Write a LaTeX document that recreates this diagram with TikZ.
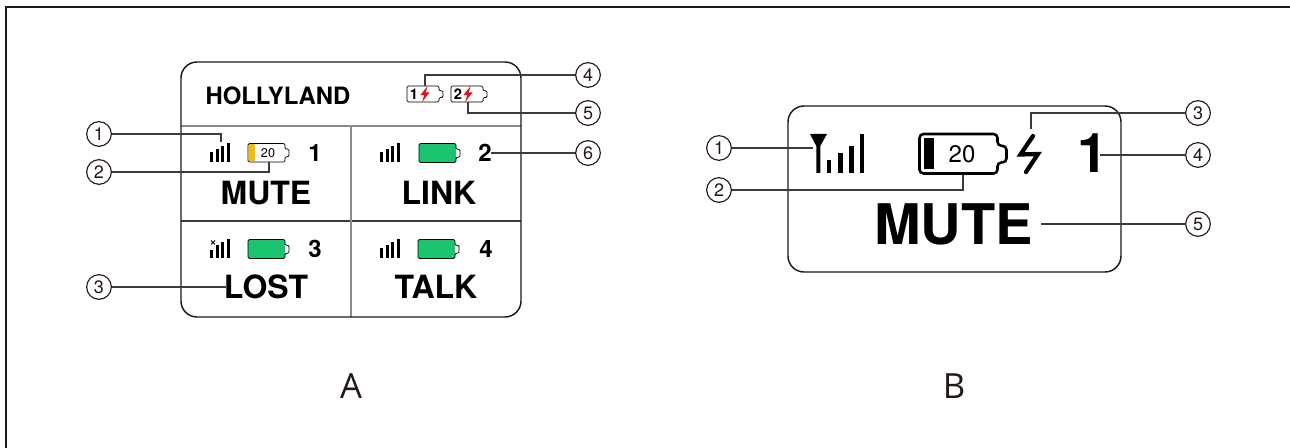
\documentclass[tikz,border=0pt]{standalone}
\usepackage{fontspec}
\setmainfont{TeX Gyre Heros}
\newfontfamily\labelfont{Open Sans}
\definecolor{ink}{HTML}{231815}
\definecolor{lead}{HTML}{3E3A39}
\definecolor{rule}{HTML}{8C8C8C}
\definecolor{battgreen}{HTML}{1BC470}
\definecolor{battyellow}{HTML}{F5BE00}
\definecolor{boltred}{HTML}{E0141E}
\tikzset{
  panel/.style={draw=ink,line width=1.1pt,rounded corners=12pt},
  leadline/.style={draw=lead,line width=0.85pt},
  callout/.style={circle,draw=ink,line width=0.85pt,minimum size=18.5pt,inner sep=0pt,font=\fontsize{13.5}{13.5}\selectfont,text=ink},
  txt/.style={inner sep=0pt,text=black},
  bigword/.style={txt,font=\bfseries\fontsize{24}{24}\selectfont},
  slotnum/.style={txt,font=\bfseries\fontsize{18}{18}\selectfont},
  panellabel/.style={inner sep=0pt,text=ink,font=\labelfont\fontsize{26}{26}\selectfont},
  tinynum/.style={txt,font=\bfseries\fontsize{11}{11}\selectfont},
}
% x, y, width, height, nub, line width, corner
\newcommand{\battbody}[7]{%
  \draw[black,line width=#6,rounded corners=#7,shift={(#1,#2)}]
    (0,0) -- (#3,0) -- (#3,{#4*0.3}) -- ({#3+#5},{#4*0.3}) -- ({#3+#5},{#4*0.72})
    -- (#3,{#4*0.72}) -- (#3,#4) -- (0,#4) -- cycle;}
\newcommand{\greenbatt}[2]{%
  \fill[battgreen,rounded corners=1pt,shift={(#1,#2)}] (0,0) rectangle (37,19);
  \battbody{#1}{#2}{37}{19}{4}{0.6pt}{1pt}}
% x, bottom y, first-bar height
\newcommand{\sigbars}[3]{%
  \begin{scope}[shift={(#1,#2)}]
    \fill[black] (0,0) rectangle (3,-#3);
    \fill[black] (5.6,0) rectangle (8.6,-13);
    \fill[black] (11,0) rectangle (14,-16);
    \fill[black] (16.6,0) rectangle (20,-19);
  \end{scope}}
\newcommand{\bolt}[2]{%
  \fill[boltred,shift={(#1,#2)}] (2.5,-8) -- (-4.6,1.2) -- (-0.8,1.2) -- (-2.8,8) -- (4.6,-1.6) -- (0.8,-1.6) -- cycle;}
\begin{document}
\begin{tikzpicture}[x=0.75pt,y=-0.75pt]
\useasboundingbox (0,0) rectangle (1290,448);
\fill[white] (0,0) rectangle (1290,448);
\draw[ink,line width=1.1pt] (6,448) -- (6,7) -- (1290,7);

% ---------- panel A
\draw[rule,line width=0.9pt] (181,126) -- (521,126);
\draw[lead,line width=0.8pt] (181,221) -- (521,221);
\draw[rule,line width=0.9pt] (351,126) -- (351,317);
\draw[panel] (181,62) rectangle (521,317);
\node[txt,font=\bfseries\fontsize{17.9}{17.9}\selectfont] (brand) at (278,95.5) {HOLLYLAND};

\battbody{407}{86}{32}{16}{4}{0.6pt}{1pt}
\node[tinynum] (topone) at (414,94) {1};
\bolt{425}{94}
\battbody{451}{86}{32}{16}{4}{0.6pt}{1pt}
\node[tinynum] (toptwo) at (458,94) {2};
\bolt{468}{94}

\sigbars{210}{162}{10}
\fill[battyellow,shift={(248,143.5)}] (1,1) rectangle (7,18);
\battbody{248}{143.5}{37}{18.5}{4}{0.6pt}{1pt}
\node[txt,font=\fontsize{9.5}{9.5}\selectfont] (pct) at (268,152.8) {20};
\node[slotnum] (numA) at (315,153) {1};
\node[bigword] (wordA) at (266,193) {MUTE};

\sigbars{380}{162}{10}
\greenbatt{419}{143.5}
\node[slotnum] (numB) at (485,153) {2};
\node[bigword] (wordB) at (439,193) {LINK};

\sigbars{210}{258}{8}
\draw[black,line width=0.55pt] (211,240.5) -- (215,244.5) (215,240.5) -- (211,244.5);
\greenbatt{248}{239.5}
\node[slotnum] (numC) at (315,249) {3};
\node[bigword] (wordC) at (266,287) {LOST};

\sigbars{380}{258}{10}
\greenbatt{418}{239.5}
\node[slotnum] (numD) at (486,249) {4};
\node[bigword] (wordD) at (436,287) {TALK};

\node[callout] (a1) at (99,134) {1};
\node[callout] (a2) at (99,172) {2};
\node[callout] (a3) at (99,287) {3};
\node[callout] (a4) at (588,75) {4};
\node[callout] (a5) at (588,113) {5};
\node[callout] (a6) at (588,153) {6};
\coordinate (a1end) at (221,142);
\coordinate (a2end) at (269,162);
\coordinate (a3end) at (226,287);
\coordinate (a4end) at (425,86);
\coordinate (a5end) at (468,102);
\coordinate (a6end) at (491,153);
\draw[leadline] (a1.east) -| (a1end);
\draw[leadline] (a2.east) -| (a2end);
\draw[leadline] (a3.east) -- (a3end);
\draw[leadline] (a4.west) -| (a4end);
\draw[leadline] (a5.west) -| (a5end);
\draw[leadline] (a6.west) -- (a6end);
\node[panellabel] (labA) at (351,386.5) {A};

% ---------- panel B
\draw[panel] (788,106) rectangle (1121,272);
\fill[black] (810,134) -- (827,134) -- (820.3,146) -- (820.3,173) -- (816.3,173) -- (816.3,146) -- cycle;
\fill[black] (827,160) rectangle (831,173);
\fill[black] (838,153) rectangle (843,173);
\fill[black] (849,146) rectangle (853.5,173);
\fill[black] (859.5,134) rectangle (864,173);
\battbody{919.5}{134}{78}{39.5}{9}{1.9pt}{3pt}
\fill[black] (923.5,138) rectangle (934,169.5);
\node[txt,font=\fontsize{18}{18}\selectfont] (pctB) at (962,154) {20};
\draw[black,line width=3.2pt,line cap=round,line join=miter] (1033,136) -- (1020.5,154.5) -- (1038,154) -- (1026,172);
\node[txt,font=\bfseries\fontsize{41}{41}\selectfont] (numBig) at (1092.5,153.5) {1};
\node[txt,font=\bfseries\fontsize{42}{42}\selectfont] (wordBig) at (953.5,224) {MUTE};

\node[callout] (b1) at (719,148) {1};
\node[callout] (b2) at (719,190) {2};
\node[callout] (b3) at (1198,113) {3};
\node[callout] (b4) at (1198,155) {4};
\node[callout] (b5) at (1198,224) {5};
\coordinate (b1end) at (813,148);
\coordinate (b2end) at (963,175);
\coordinate (b3end) at (1031,129);
\coordinate (b4end) at (1100,155);
\coordinate (b5end) at (1041,224);
\draw[leadline] (b1.east) -- (b1end);
\draw[leadline] (b2.east) -| (b2end);
\draw[leadline] (b3.west) -| (b3end);
\draw[leadline] (b4.west) -- (b4end);
\draw[leadline] (b5.west) -- (b5end);
\node[panellabel] (labB) at (954,386.5) {B};
\end{tikzpicture}
\end{document}
